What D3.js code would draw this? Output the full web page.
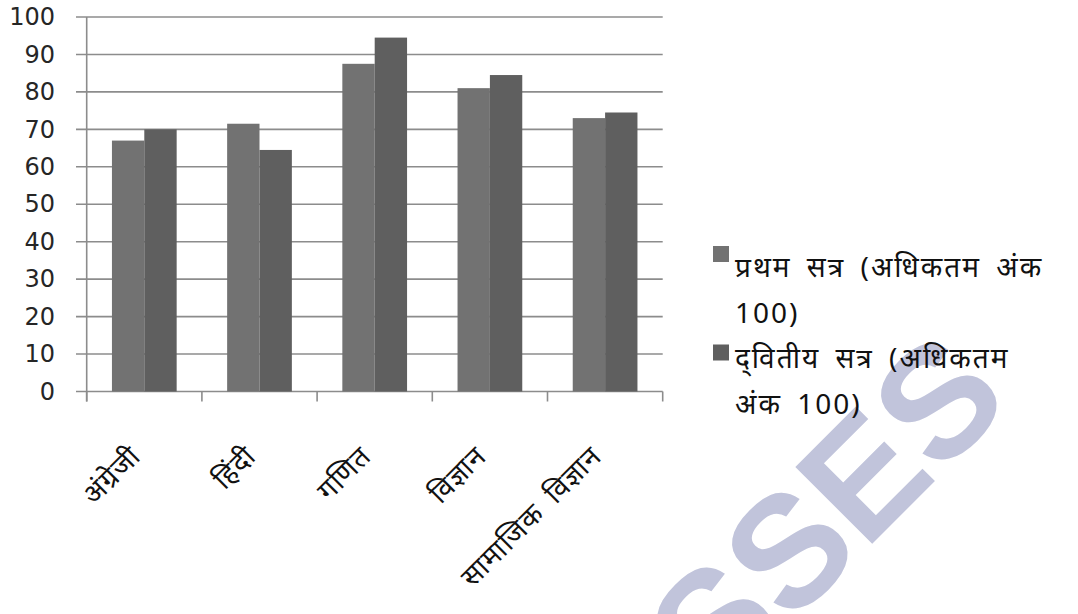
<!DOCTYPE html>
<html>
<head>
<meta charset="utf-8">
<script src="https://cdn.jsdelivr.net/npm/d3@7"></script>
<style>
  body { margin: 0; background: #fff; }
  svg { display: block; }
</style>
</head>
<body>
<div id="chart"></div>
<script>
// subjects on the x axis
var subjects = ["अंग्रेजी", "हिंदी", "गणित", "विज्ञान", "सामाजिक विज्ञान"];
// the two terms
var seriesNames = ["प्रथम सत्र (अधिकतम अंक 100)", "द्\u200Cवितीय सत्र (अधिकतम अंक 100)"];
var firstTerm = [67, 71.5, 87.5, 81, 73];
var secondTerm = [70, 64.5, 94.5, 84.5, 74.5];
var yTicks = [0, 10, 20, 30, 40, 50, 60, 70, 80, 90, 100];
var colors = ["#727272", "#5f5f5f"];

var svgWidth = 1078;
var svgHeight = 614;

var svg = d3.select("#chart")
    .append("svg")
    .attr("width", svgWidth)
    .attr("height", svgHeight);

svg.append("rect")
    .attr("width", svgWidth)
    .attr("height", svgHeight)
    .attr("fill", "#fff");

// watermark behind everything
svg.append("text")
    .attr("transform", "translate(486, 930) rotate(-45)")
    .attr("font-family", "'Liberation Sans', Arial, sans-serif")
    .attr("font-weight", "bold")
    .attr("font-size", "158px")
    .attr("fill", "#c1c4db")
    .text("CLASSES");

// scales
var x0 = d3.scaleBand()
    .domain(subjects)
    .range([86.7, 662.7]);

var x1 = d3.scaleBand()
    .domain([0, 1])
    .range([0, x0.bandwidth()])
    .paddingOuter(0.78);

var y = d3.scaleLinear()
    .domain([0, 100])
    .range([391.5, 17]);

var gridColor = "#8c8c8c";

// horizontal grid lines with their outside ticks
svg.append("g")
    .selectAll("line")
    .data(yTicks)
    .enter()
    .append("line")
    .attr("x1", 76)
    .attr("x2", 662.7)
    .attr("y1", d => y(d))
    .attr("y2", d => y(d))
    .attr("stroke", gridColor)
    .attr("stroke-width", 1.6);

// y axis
var leftAxis = d3.axisLeft(y)
    .tickValues(yTicks)
    .tickSize(0)
    .tickPadding(21);

var yAxisGroup = svg.append("g")
    .attr("transform", "translate(76, 0)")
    .call(leftAxis);
yAxisGroup.select(".domain").remove();
yAxisGroup.selectAll("text")
    .attr("font-family", "'DejaVu Sans', Verdana, sans-serif")
    .attr("font-size", "24px")
    .attr("fill", "#262626");

svg.append("line")
    .attr("x1", 86.7)
    .attr("x2", 86.7)
    .attr("y1", y(100))
    .attr("y2", y(0) + 10)
    .attr("stroke", gridColor)
    .attr("stroke-width", 1.6);

// category boundary ticks
var boundaries = subjects.map(d => x0(d)).concat([x0.range()[1]]);
svg.append("g")
    .selectAll("line")
    .data(boundaries)
    .enter()
    .append("line")
    .attr("x1", d => d)
    .attr("x2", d => d)
    .attr("y1", y(0))
    .attr("y2", y(0) + 10)
    .attr("stroke", gridColor)
    .attr("stroke-width", 1.6);

// bars
var barData = [];
subjects.forEach((s, i) => {
    barData.push({ subject: s, series: 0, value: firstTerm[i] });
    barData.push({ subject: s, series: 1, value: secondTerm[i] });
});

svg.append("g")
    .selectAll("rect")
    .data(barData)
    .enter()
    .append("rect")
    .attr("x", d => x0(d.subject) + x1(d.series))
    .attr("y", d => y(d.value))
    .attr("width", x1.bandwidth())
    .attr("height", d => y(0) - y(d.value))
    .attr("fill", d => colors[d.series]);

// rotated subject labels
svg.append("g")
    .selectAll("text")
    .data(subjects)
    .enter()
    .append("text")
    .attr("transform", d => `translate(${x0(d) + x0.bandwidth() / 2 - 2}, 458) rotate(-45)`)
    .attr("text-anchor", "end")
    .attr("font-family", "'Noto Sans', sans-serif")
    .attr("font-size", "28px")
    .attr("letter-spacing", "1px")
    .attr("word-spacing", "6px")
    .attr("fill", "#111")
    .text(d => d);

// legend
var legend = svg.append("g");
var lineHeight = 45.5;
var lineNo = 0;
seriesNames.forEach((name, i) => {
    legend.append("rect")
        .attr("x", 713)
        .attr("y", 246 + i * 98.5)
        .attr("width", 16)
        .attr("height", 16)
        .attr("fill", colors[i]);

    // wrap the name into lines that fit the legend width
    var words = name.split(" ");
    var lines = [];
    var current = [];
    var probe = legend.append("text")
        .attr("font-family", "'Noto Sans', sans-serif")
        .attr("font-size", "28px")
        .attr("letter-spacing", "2px")
        .attr("word-spacing", "6px");
    words.forEach(w => {
        var trial = current.concat([w]).join(" ");
        probe.text(trial);
        if (probe.node().getComputedTextLength() > 320 && current.length) {
            lines.push(current.join(" "));
            current = [w];
        } else {
            current.push(w);
        }
    });
    lines.push(current.join(" "));
    probe.remove();

    lines.forEach(l => {
        legend.append("text")
            .attr("x", 735)
            .attr("y", 277 + lineNo * lineHeight)
            .attr("font-family", "'Noto Sans', sans-serif")
            .attr("font-size", "28px")
            .attr("letter-spacing", "2px")
            .attr("word-spacing", "6px")
            .attr("fill", "#111")
            .text(l);
        lineNo++;
    });
});
</script>
</body>
</html>
